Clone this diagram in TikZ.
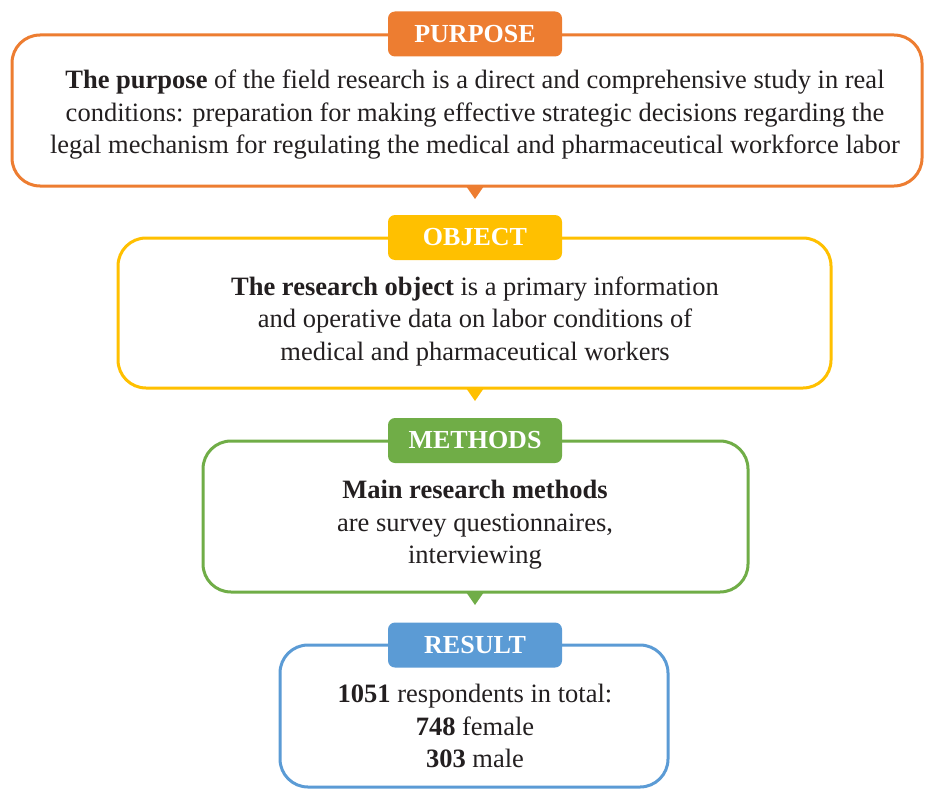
\documentclass[tikz,border=0pt]{standalone}
\usepackage{fontspec}
\setmainfont{Liberation Serif}
\definecolor{cOrange}{HTML}{ED7D31}
\definecolor{cYellow}{HTML}{FFC000}
\definecolor{cGreen}{HTML}{70AD47}
\definecolor{cBlue}{HTML}{5B9BD5}
\definecolor{txt}{HTML}{231F20}
\begin{document}
\begin{tikzpicture}[x=1pt,y=-1pt,
  frame/.style={draw=#1, line width=3pt, rounded corners=28pt, fill=white, inner sep=0pt},
  tag/.style={fill=#1, rounded corners=7pt, minimum width=174pt, minimum height=45pt, text=white,
    font=\bfseries\fontsize{26}{30}\selectfont, inner sep=0pt},
  body/.style={align=center, font=\fontsize{26.5}{32.5}\selectfont, text=txt, inner sep=0pt},
  tri/.style={fill=#1, draw=none}]
\useasboundingbox (0,0) rectangle (925,789);
% frames
\node[frame=cOrange, minimum width=910pt, minimum height=151pt] (f1) at (467,110.5) {};
\node[frame=cYellow, minimum width=713pt, minimum height=150pt] (f2) at (474.5,313) {};
\node[frame=cGreen, minimum width=545pt, minimum height=151pt] (f3) at (475.5,516.5) {};
\node[frame=cBlue, minimum width=388pt, minimum height=142pt] (f4) at (474,716) {};
% pointers
\coordinate (p1) at (475,186);
\coordinate (p2) at (475,388);
\coordinate (p3) at (475,592);
\fill[cOrange] ([xshift=-9pt]p1) -- ([xshift=9pt]p1) -- ([yshift=-13pt]p1) -- cycle;
\fill[cYellow] ([xshift=-9pt]p2) -- ([xshift=9pt]p2) -- ([yshift=-13pt]p2) -- cycle;
\fill[cGreen] ([xshift=-9pt]p3) -- ([xshift=9pt]p3) -- ([yshift=-13pt]p3) -- cycle;
% tags
\node[tag=cOrange] (t1) at (475,34) {PURPOSE};
\node[tag=cYellow] (t2) at (475,237.5) {OBJECT};
\node[tag=cGreen] (t3) at (475,440.5) {METHODS};
\node[tag=cBlue] (t4) at (475,645) {RESULT};
% bodies
\node[body] (b1) at (475,115) {\textbf{The purpose} of the field research is a direct and comprehensive study in real\\
conditions: preparation for making effective strategic decisions regarding the\\
legal mechanism for regulating the medical and pharmaceutical workforce labor};
\node[body] (b2) at (475,321) {\textbf{The research object} is a primary information\\
and operative data on labor conditions of\\
medical and pharmaceutical workers};
\node[body] (b3) at (475,525) {\textbf{Main research methods}\\
are survey questionnaires,\\
interviewing};
\node[body] (b4) at (475,726) {\textbf{1051} respondents in total:\\
\textbf{748} female\\
\textbf{303} male};
\end{tikzpicture}
\end{document}
